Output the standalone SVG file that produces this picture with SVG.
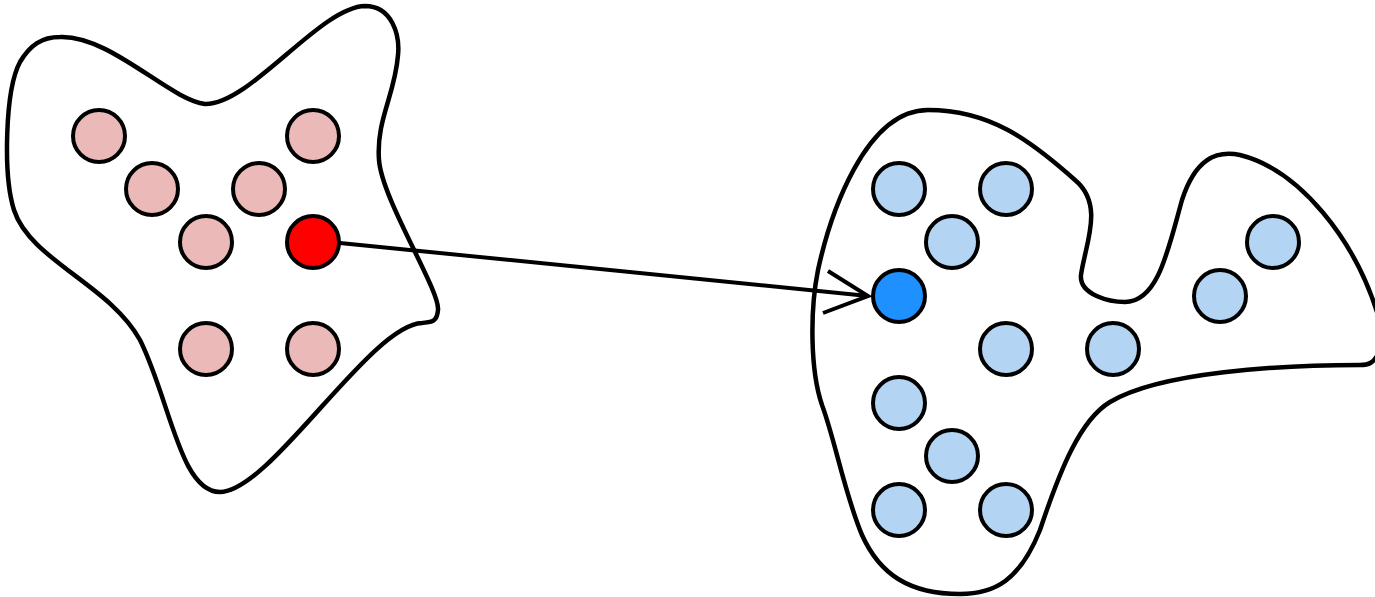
<svg xmlns="http://www.w3.org/2000/svg" width="1375" height="597" viewBox="0 0 1375 597">
<style>
.blob{fill:#fff;stroke:#000;stroke-width:4.5;stroke-linejoin:round}
.n{stroke:#000;stroke-width:4}
.pk{fill:#eab9b8}
.lb{fill:#b3d4f2}
.edge{fill:none;stroke:#000;stroke-width:4}
</style>
<rect width="1375" height="597" fill="#fff"/>
<g id="blob-left">
<path class="blob" d="M 60,37 C 110,35 170,100 205,104 C 250,105 320,7 365,6 C 392,6 400,35 398,55 C 395,95 376,120 379,160 C 382,200 440,290 438,310 C 437,322 432,322 422,323 C 370,325 270,492 220,492 C 180,492 170,400 140,340 C 110,285 30,260 14,210 C 3,175 5,90 20,62 C 30,45 42,37 60,37 Z"/>
</g>
<g id="blob-right">
<path class="blob" d="M 928,110 C 990,110 1030,140 1075,180 C 1105,205 1085,245 1081,275 C 1079,295 1110,302 1125,302 C 1158,302 1168,250 1182,200 C 1195,160 1215,150 1240,155 C 1300,170 1355,240 1378,315 L 1380,350 C 1374,364 1368,365 1360,365 C 1280,365 1160,372 1110,402 C 1080,420 1060,470 1040,530 C 1020,580 995,594 960,594 C 910,594 880,575 862,535 C 845,495 835,440 822,405 C 810,370 810,310 818,270 C 830,215 865,110 928,110 Z"/>
</g>
<g id="connectors">
<path class="edge" d="M 340,243 L 868,296"/>
<path class="edge" d="M 828,271 L 868,296 L 823,313"/>
</g>
<g id="l1"><circle class="n pk" cx="99" cy="136" r="26"/></g>
<g id="l2"><circle class="n pk" cx="313" cy="136" r="26"/></g>
<g id="l3"><circle class="n pk" cx="152" cy="189" r="26"/></g>
<g id="l4"><circle class="n pk" cx="259" cy="189" r="26"/></g>
<g id="l5"><circle class="n pk" cx="206" cy="242" r="26"/></g>
<g id="l6"><circle class="n" fill="#ff0000" cx="313" cy="242" r="26"/></g>
<g id="l7"><circle class="n pk" cx="206" cy="349" r="26"/></g>
<g id="l8"><circle class="n pk" cx="313" cy="349" r="26"/></g>
<g id="r1"><circle class="n lb" cx="899" cy="189" r="26"/></g>
<g id="r2"><circle class="n lb" cx="1006" cy="189" r="26"/></g>
<g id="r3"><circle class="n lb" cx="952" cy="242" r="26"/></g>
<g id="r4"><circle class="n" fill="#1e90ff" cx="899" cy="296" r="26"/></g>
<g id="r5"><circle class="n lb" cx="1006" cy="349" r="26"/></g>
<g id="r6"><circle class="n lb" cx="1113" cy="349" r="26"/></g>
<g id="r7"><circle class="n lb" cx="899" cy="403" r="26"/></g>
<g id="r8"><circle class="n lb" cx="952" cy="456" r="26"/></g>
<g id="r9"><circle class="n lb" cx="899" cy="510" r="26"/></g>
<g id="r10"><circle class="n lb" cx="1006" cy="510" r="26"/></g>
<g id="r11"><circle class="n lb" cx="1273" cy="242" r="26"/></g>
<g id="r12"><circle class="n lb" cx="1220" cy="296" r="26"/></g>
</svg>
